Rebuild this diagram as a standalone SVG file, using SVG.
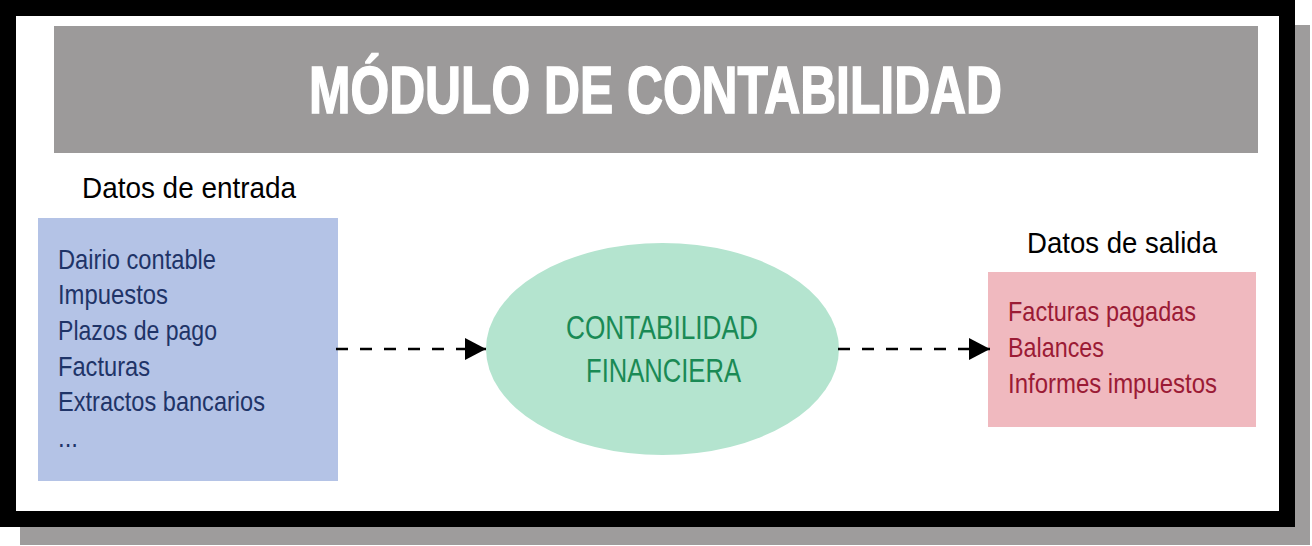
<svg xmlns="http://www.w3.org/2000/svg" width="1312" height="546" viewBox="0 0 1312 546">
<style>
.t{font-family:"Liberation Sans Narrow","Liberation Sans",Arial,sans-serif;}
.title{font-size:66px;font-weight:bold;fill:#ffffff;stroke:#ffffff;stroke-width:1.6;}
.hdr{font-size:30px;fill:#000000;}
.in{font-size:28px;fill:#1f3468;}
.out{font-size:28px;fill:#9b1b35;}
.mid{font-size:33px;fill:#1a8a55;}
.conn{stroke:#000;stroke-width:2.5;stroke-dasharray:12 12;fill:none;}
</style>
<defs>
<marker id="ah" markerUnits="userSpaceOnUse" markerWidth="22" markerHeight="22" refX="21" refY="11" orient="auto">
<path d="M0,0 L21,11 L0,22 Z" fill="#000"/>
</marker>
</defs>
<g id="frame">
<rect x="20" y="25" width="1290" height="520" fill="#9e9c9c"/>
<rect x="0" y="0" width="1295" height="527" fill="#000"/>
<rect x="16" y="16" width="1263" height="495" fill="#fff"/>
</g>
<g id="title">
<rect x="54" y="26" width="1204" height="127" fill="#9c9a9a"/>
<text class="t title" x="309" y="113" textLength="693" lengthAdjust="spacingAndGlyphs">MÓDULO DE CONTABILIDAD</text>
</g>
<g id="entrada">
<text class="t hdr" x="82" y="198" textLength="214" lengthAdjust="spacingAndGlyphs">Datos de entrada</text>
<rect x="38" y="218" width="300" height="263" fill="#b4c3e6"/>
<text class="t in" x="58" y="269" textLength="158" lengthAdjust="spacingAndGlyphs">Dairio contable</text>
<text class="t in" x="58" y="304" textLength="110" lengthAdjust="spacingAndGlyphs">Impuestos</text>
<text class="t in" x="58" y="340" textLength="159" lengthAdjust="spacingAndGlyphs">Plazos de pago</text>
<text class="t in" x="58" y="376" textLength="92" lengthAdjust="spacingAndGlyphs">Facturas</text>
<text class="t in" x="58" y="411" textLength="207" lengthAdjust="spacingAndGlyphs">Extractos bancarios</text>
<text class="t in" x="58" y="447" textLength="20" lengthAdjust="spacingAndGlyphs">...</text>
</g>
<g id="proceso">
<ellipse cx="662.5" cy="349" rx="176.5" ry="106" fill="#b4e4cf"/>
<text class="t mid" x="566" y="339" textLength="192" lengthAdjust="spacingAndGlyphs">CONTABILIDAD</text>
<text class="t mid" x="586" y="382" textLength="155" lengthAdjust="spacingAndGlyphs">FINANCIERA</text>
</g>
<g id="salida">
<text class="t hdr" x="1027" y="253" textLength="190" lengthAdjust="spacingAndGlyphs">Datos de salida</text>
<rect x="988" y="272" width="268" height="155" fill="#f0b9bf"/>
<text class="t out" x="1008" y="321" textLength="188" lengthAdjust="spacingAndGlyphs">Facturas pagadas</text>
<text class="t out" x="1008" y="357" textLength="96" lengthAdjust="spacingAndGlyphs">Balances</text>
<text class="t out" x="1008" y="393" textLength="209" lengthAdjust="spacingAndGlyphs">Informes impuestos</text>
</g>
<g id="connectors">
<line class="conn" x1="336" y1="349" x2="486" y2="349" marker-end="url(#ah)"/>
<line class="conn" x1="838" y1="349" x2="990" y2="349" marker-end="url(#ah)"/>
</g>
</svg>
